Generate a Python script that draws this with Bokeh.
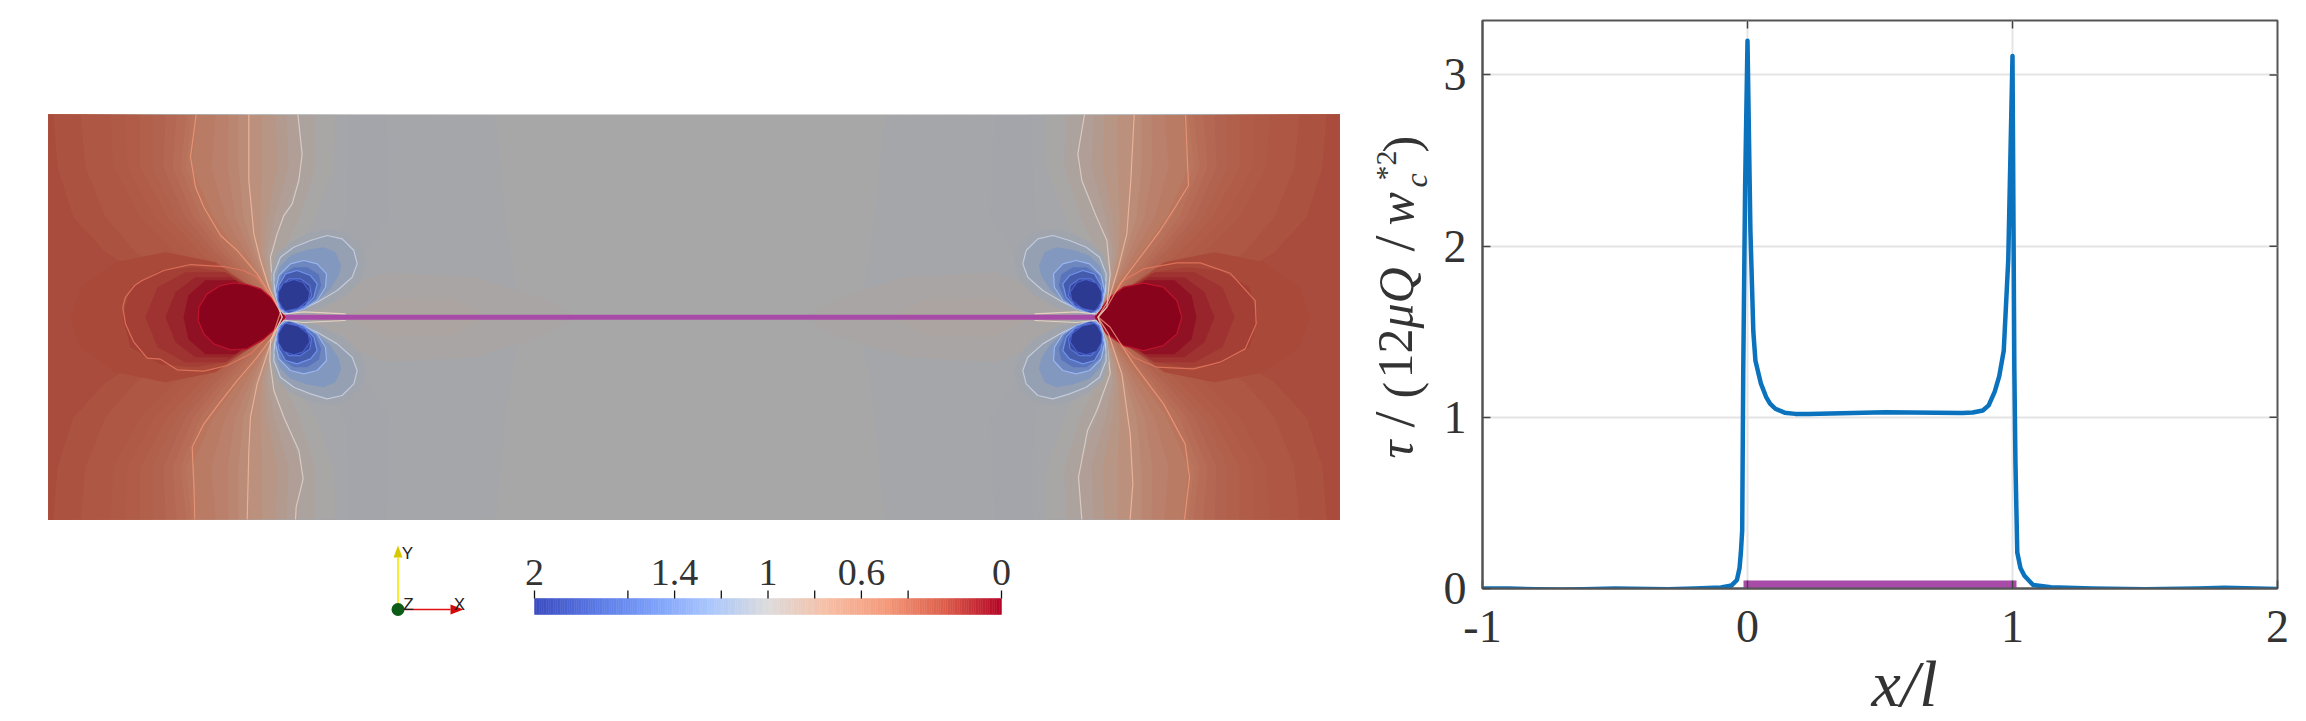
import numpy as np
from bokeh.embed import file_html
from bokeh.resources import INLINE
from bokeh.layouts import row
from bokeh.plotting import figure
from bokeh.core.properties import value
from bokeh.models import Range1d, FixedTicker, Title

# ---------------- data: curve ----------------
curve_x = [-1, -0.9, -0.7, -0.5, -0.3, -0.2, -0.1, -0.06, -0.04, -0.03, -0.025, -0.02, -0.016, -0.009, 0.0,
           0.011, 0.022, 0.03, 0.05, 0.07, 0.085, 0.105, 0.14, 0.18, 0.23, 0.52, 0.81, 0.85, 0.888, 0.91, 0.933, 0.95, 0.967, 0.984, 1.0,
           1.007, 1.011, 1.018, 1.03, 1.045, 1.078, 1.145, 1.3, 1.5, 1.7, 1.8, 2.0]
curve_y = [0.0, 0.0, -0.008, 0.0, -0.004, 0.0, 0.006, 0.018, 0.05, 0.12, 0.21, 0.34, 1.28, 2.35, 3.2,
           2.09, 1.5, 1.33, 1.2, 1.12, 1.08, 1.05, 1.027, 1.02, 1.02, 1.03, 1.025, 1.028, 1.04, 1.07, 1.15, 1.24, 1.39, 1.92, 3.11,
           1.28, 0.745, 0.21, 0.12, 0.075, 0.02, 0.008, 0.0, -0.004, 0.0, 0.004, -0.003]
fracture_x = [0, 1]
x_ticks = [-1, 0, 1, 2]
y_ticks = [0, 1, 2, 3]

# ---------------- data: field bands ----------------
# each band: field value, and the contour's offset from the tip (pixels) at these heights above the crack
band_heights = [202, 150, 100, 65, 35, 12, 0]
band_levels = [1.008, 1.016, 1.025, 1.03, 1.02, 0.99, 0.95, 0.90, 0.85, 0.80, 0.75, 0.70, 0.65, 0.60, 0.55, 0.50,
               0.475, 0.45, 0.425, 0.40, 0.38, 0.36, 0.345, 0.33, 0.30, 0.27]
band_1008 = [290, 300, 305, 310, 315, 320, 325]
band_1016 = [210, 215, 220, 225, 230, 235, 240]
band_1025 = [150, 155, 160, 165, 170, 175, 180]
band_1030 = [100, 102, 104, 80, 60, 40, 30]
band_1020 = [62, 62, 60, 40, 20, 8, 4]
band_0990 = [50, 48, 30, 10, 0, -2, 0]
band_0950 = [29, 30, 14, -3, -8, -5, 0]
band_0900 = [12, 16, -3, -14, -13, -7, 0]
band_0850 = [1, 3, -11, -18, -15, -7, 0]
band_0800 = [-10, -8, -18, -21, -16, -8, 0]
band_0750 = [-23, -23, -25, -24, -17, -8, 0]
band_0700 = [-37, -37, -33, -27, -19, -8, 0]
band_0650 = [-47, -47, -42, -31, -20, -8, 0]
band_0600 = [-57, -58, -50, -35, -21, -8, 0]
band_0550 = [-70, -74, -60, -40, -23, -9, 0]
band_0500 = [-89, -94, -72, -47, -25, -9, 0]
band_0475 = [-94, -100, -78, -52, -28, -10, -1]
band_0450 = [-99, -105, -85, -58, -32, -12, -2]
band_0425 = [-109, -113, -92, -64, -36, -13, -2]
band_0400 = [-120, -122, -100, -70, -40, -15, -3]
band_0380 = [-132, -133, -109, -77, -46, -17, -4]
band_0360 = [-145, -145, -118, -85, -52, -20, -5]
band_0345 = [-160, -158, -131, -97, -60, -25, -6]
band_0330 = [-175, -172, -145, -110, -70, -30, -8]
band_0300 = [-205, -200, -180, -150, -100, -45, -12]
band_0270 = [-232, -228, -212, -180, -130, -60, -15]
band_all = [band_1008, band_1016, band_1025, band_1030, band_1020, band_0990, band_0950, band_0900, band_0850, band_0800,
            band_0750, band_0700, band_0650, band_0600, band_0550, band_0500, band_0475, band_0450, band_0425, band_0400,
            band_0380, band_0360, band_0345, band_0330, band_0300, band_0270]

# faint warm zones beside the crack: offsets (dx, dy) from the tip, upper half
warm_levels = [0.98, 0.96]
warm_1 = [(20,0),(40,22),(100,45),(190,40),(260,18),(290,0)]
warm_2 = [(60,0),(100,20),(170,18),(200,0)]

# dark halo round the red ball: upper half, offsets (dx, dy) from the tip in pixels, mirrored below
halo_levels = [0.25, 0.215, 0.17, 0.12, 0.05]
halo_1 = [(-215,0),(-205,30),(-170,55),(-120,65),(-70,55),(-20,20),(0,0)]
halo_2 = [(-163,0),(-155,30),(-125,47),(-90,50),(-60,45),(-20,22),(0,0)]
halo_3 = [(-140,0),(-128,30),(-100,45),(-60,45),(-20,20),(0,0)]
halo_4 = [(-120,0),(-110,25),(-90,40),(-55,40),(-18,15),(0,0)]
halo_5 = [(-102,0),(-97,22),(-80,37),(-50,37),(-15,12),(0,0)]

# contours digitised around the left tip and right tip, (x, y) in picture samples (3 per pixel)
left_c0 = [(740,620),(680,530),(640,510),(580,498),(480,492),(400,510),(335,540),(312,555),(285,590),(277,620),(285,670),(310,725),(350,773),(390,776),(440,808),(520,812),(590,795),(660,760),(740,680)]
left_ball = [(765,650),(720,590),(690,565),(650,552),(610,547),(570,555),(530,580),(505,620),(503,660),(520,700),(550,730),(600,748),(650,745),(700,715),(740,680)]
left_c1 = [(497,42),(480,170),(495,260),(520,320),(570,405),(620,450),(680,520),(725,590),(750,635),(725,710),(680,770),(620,840),(565,910),(520,970),(485,1040),(490,1150),(493,1257)]
left_c2 = [(655,42),(655,240),(670,400),(690,480),(715,560),(745,625),(755,650),(720,730),(680,850),(660,950),(655,1050),(650,1257)]
left_c3 = [(802,42),(815,160),(805,240),(785,310),(760,345),(740,400),(720,470),(725,540),(745,620),(755,650),(720,720),(718,780),(730,870),(760,950),(805,1050),(818,1135),(797,1220),(795,1257)]
right_c0 = [(325,610),(370,540),(430,505),(530,487),(600,487),(690,518),(765,600),(768,670),(735,745),(660,785),(580,805),(470,800),(400,770),(330,695)]
right_ball = [(283,650),(330,590),(370,560),(430,548),(490,560),(530,600),(545,650),(530,700),(490,735),(430,750),(370,735),(320,700)]
right_c1 = [(556,42),(565,255),(525,320),(480,390),(420,470),(360,550),(320,620),(295,650),(330,680),(400,790),(490,910),(555,1030),(568,1130),(553,1257)]
right_c2 = [(402,42),(392,240),(380,400),(355,500),(325,600),(293,650),(325,700),(365,820),(390,1000),(398,1150),(390,1257)]
right_c3 = [(253,42),(233,160),(245,240),(285,340),(320,420),(330,520),(320,620),(293,650),(320,720),(330,820),(290,930),(262,990),(235,1130),(245,1257)]

lobe_0 = [(760,642),(810,640),(880,620),(945,585),(990,540),(1005,490),(990,435),(945,395),(890,385),(830,400),(780,425),(740,460),(722,520),(726,575),(745,625)]
lobe_1 = [(760,640),(800,632),(860,605),(920,570),(965,530),(980,490),(970,450),(935,415),(890,405),(840,420),(790,440),(750,470),(730,520),(732,570),(745,620)]
lobe_a = [(762,638),(810,628),(860,602),(900,565),(925,525),(932,495),(915,455),(880,440),(830,448),(780,465),(748,498),(732,545),(738,590),(745,620)]
lobe_2 = [(765,635),(820,625),(860,600),(885,560),(888,520),(860,490),(820,480),(780,490),(745,525),(735,570),(745,620)]
lobe_b = [(770,638),(820,624),(855,595),(872,555),(865,522),(830,500),(790,500),(755,522),(738,570),(748,622)]
lobe_3 = [(775,640),(820,622),(850,590),(860,550),(840,525),(800,510),(765,520),(745,555),(740,590),(750,625)]
lobe_4 = [(785,630),(825,615),(843,585),(838,555),(810,535),(775,535),(750,560),(745,590),(755,620)]
lobe_5 = [(765,632),(802,624),(833,600),(838,575),(818,546),(790,537),(758,548),(743,575),(743,600),(755,622)]
lobe_shapes = [lobe_0, lobe_1, lobe_a, lobe_2, lobe_b, lobe_3, lobe_4, lobe_5]
lobe_fill = [1.05, 1.12, 1.24, 1.38, 1.54, 1.74, 1.92, 2.0]
lobe_line = [None, 1.08, None, 1.3, None, 1.5, 1.68, 1.85]
lens = [(765,640),(820,634),(945,640)]

# colour bar
cbar_ticks = [2, 1.6, 1.4, 1.2, 1, 0.8, 0.6, 0.4, 0]
cbar_labels = ["2", "1.4", "1", "0.6", "0"]
cbar_label_vals = [2, 1.4, 1, 0.6, 0]

# ---------------- scales ----------------
anchors = np.array([[0x3b,0x4c,0xc0],[0x59,0x77,0xe3],[0x7b,0x9f,0xf9],[0xaa,0xc7,0xfd],[0xdd,0xdc,0xdc],
                    [0xf6,0xbf,0xa6],[0xf4,0x9a,0x7b],[0xdd,0x60,0x4c],[0xb4,0x04,0x26]], float)
def cw(v):
    t = (2 - np.asarray(v, float)) / 2 * 8
    return np.array([np.interp(t, range(9), anchors[:, c]) for c in range(3)]).T
def hexc(rgb):
    return "#%02x%02x%02x" % tuple(int(round(c)) for c in rgb)
mc = lambda v: hexc(cw(v) * 0.76)
bc = lambda v: hexc(cw(v))

PX = 809.0   # pixels per unit length in the field view
Z = 3 * PX
TIP_PX, MID_PX = 285.0, 316.7
TOP, BOT = 20, 713    # page rows covered by the left panel's frame
def L(pts): return [(a - 765) / Z for a, b in pts], [(650 - b) / Z for a, b in pts]
def R(pts): return [1 + (a - 283) / Z for a, b in pts], [(650 - b) / Z for a, b in pts]

# ---------------- left panel ----------------
W1 = 1440
p1 = figure(width=W1, height=BOT - TOP, frame_width=W1, frame_height=BOT - TOP, output_backend="svg", toolbar_location=None,
            x_range=Range1d((0 - TIP_PX) / PX, (W1 - TIP_PX) / PX),
            y_range=Range1d((MID_PX - BOT) / PX, (MID_PX - TOP) / PX),
            min_border=0, outline_line_color=None)
p1.axis.visible = False
p1.grid.visible = False
p1.extra_x_ranges["px"] = Range1d(0, W1)
p1.extra_y_ranges["px"] = Range1d(BOT, TOP)
p1.extra_x_ranges["cb"] = Range1d(2 + 534 * 2 / 467, 2 - (W1 - 534) * 2 / 467)

x0, x1 = (48 - TIP_PX) / PX, (1339 - TIP_PX) / PX
y1 = (MID_PX - 114) / PX
p1.quad(left=x0, right=x1, bottom=-y1, top=y1, fill_color=mc(1.0), line_color=None)

hs = np.array(band_heights) / PX
for lv, dxs in zip(band_levels, band_all):
    dx = np.array(dxs) / PX
    p1.patch([x0] + list(dx) + list(dx[-2::-1]) + [x0], [y1] + list(hs) + list(-hs[-2::-1]) + [-y1],
             fill_color=mc(lv), line_color=None)
    p1.patch([x1] + list(1 - dx) + list(1 - dx[-2::-1]) + [x1], [y1] + list(hs) + list(-hs[-2::-1]) + [-y1],
             fill_color=mc(lv), line_color=None)

for lv, h in zip(warm_levels + halo_levels, [warm_1, warm_2, halo_1, halo_2, halo_3, halo_4, halo_5]):
    dx = np.array([a for a, b in h]) / PX
    dy = np.array([b for a, b in h]) / PX
    xs, ys = list(dx) + list(dx[-2:0:-1]), list(dy) + list(-dy[-2:0:-1])
    p1.patch(xs, ys, fill_color=mc(lv), line_color=None)
    p1.patch([1 - a for a in xs], ys, fill_color=mc(lv), line_color=None)

def line(x, y, v, lw=1.2, alpha=0.8):
    p1.line(x, y, line_color=bc(v), line_width=lw, line_alpha=alpha)

for T, c0, ball, c1, c2, c3 in [(L, left_c0, left_ball, left_c1, left_c2, left_c3),
                                (R, right_c0, right_ball, right_c1, right_c2, right_c3)]:
    cx, cy = T(c0)
    line(cx + cx[:1], cy + cy[:1], 0.36)
    p1.patch(*T(ball), fill_color=mc(0.0), line_color=bc(0.04), line_width=1.3)
    line(*T(c1), 0.5)
    line(*T(c2), 0.72)
    line(*T(c3), 0.92)

for sy in (1, -1):
    for sx in (0, 1):
        for pts, vf, vl in zip(lobe_shapes, lobe_fill, lobe_line):
            xs, ys = L(pts)
            xs = [1 - a if sx else a for a in xs]
            ys = [sy * b for b in ys]
            p1.patch(xs, ys, fill_color=mc(vf), line_color=bc(vl) if vl else None, line_width=1.2, line_alpha=0.8)
        xs, ys = L(lens)
        p1.line([1 - a if sx else a for a in xs], [sy * b for b in ys], line_color="#f5dcc8", line_width=1.1, line_alpha=0.8)

p1.line(fracture_x, [0, 0], line_color="#a84ba8", line_width=5)

# colour bar, one thin cell per level
levels = np.linspace(0, 2, 201)
mids = (levels[1:] + levels[:-1]) / 2
p1.quad(left=levels[1:], right=levels[:-1], top=598, bottom=614, x_range_name="cb", y_range_name="px",
        fill_color=[bc(m) for m in mids], line_color=[bc(m) for m in mids], line_width=0.5)
p1.segment(cbar_ticks, [590] * 9, cbar_ticks, [598] * 9, x_range_name="cb", y_range_name="px",
           line_color="#111111", line_width=1.3)
p1.text(cbar_label_vals, [572] * 5, text=cbar_labels, x_range_name="cb", y_range_name="px",
        text_font=value("Liberation Serif"), text_font_size="38px", text_color="#333333",
        text_align="center", text_baseline="alphabetic")

# orientation triad
p1.segment([397.5], [609], [397.5], [557], x_range_name="px", y_range_name="px", line_color="#f5e800", line_width=1.6)
p1.segment([397.5], [609], [450], [609], x_range_name="px", y_range_name="px", line_color="#e01010", line_width=1.6)
p1.patch([393, 402, 397.5], [557, 557, 545], x_range_name="px", y_range_name="px", fill_color="#d8c800", line_color=None)
p1.patch([450, 450, 463], [604, 614, 609], x_range_name="px", y_range_name="px", fill_color="#d80808", line_color=None)
p1.scatter([397.5], [609], size=13, x_range_name="px", y_range_name="px", fill_color="#0c5c18", line_color=None)
p1.text([407, 408, 459], [553, 604, 604], text=["Y", "Z", "X"], x_range_name="px", y_range_name="px",
        text_font=value("Liberation Sans"), text_font_size="17px", text_color="#222222",
        text_align="center", text_baseline="alphabetic")

# y label of the right panel (it lies left of that panel's frame)
def lab(px, py, t, size, style="normal"):
    p1.text([px - 0.5 * size], [py], text=[t], x_range_name="px", y_range_name="px", angle=np.pi / 2,
            text_font=value("Liberation Serif"), text_font_size=f"{size}px", text_font_style=style,
            text_color="#333333", text_align="left", text_baseline="alphabetic")
bx = 1420
lab(bx, 458, "τ", 50, "italic")
lab(bx + 3, 427, "/", 58)
lab(bx + 5, 398, "(", 50)
lab(bx, 378, "12", 50)
lab(bx, 328, "μQ", 50, "italic")
lab(bx + 3, 251, "/", 58)
lab(bx, 225, "w", 50, "italic")
lab(bx + 11, 187, "c", 32, "italic")
lab(bx - 20, 180, "*2", 30)
lab(bx + 5, 152, ")", 50)

# ---------------- right panel ----------------
W2 = 856
p2 = figure(width=W2, height=BOT, output_backend="svg", toolbar_location=None,
            frame_width=795, frame_height=568,
            x_range=Range1d(-1, 2), y_range=Range1d(0, 3.318),
            min_border_left=41, min_border_right=20, min_border_top=TOP, min_border_bottom=125,
            outline_line_color="#555555", outline_line_width=2)
for ax in (p2.xaxis[0], p2.yaxis[0]):
    ax.major_tick_in = 8
    ax.major_tick_out = 0
    ax.minor_tick_line_color = None
    ax.axis_line_color = "#555555"
    ax.axis_line_width = 2
    ax.major_tick_line_color = "#444444"
    ax.major_tick_line_width = 1.5
    ax.major_label_text_font = "Liberation Serif"
    ax.major_label_text_font_size = "46px"
    ax.major_label_text_color = "#333333"
p2.xaxis[0].ticker = FixedTicker(ticks=x_ticks)
p2.yaxis[0].ticker = FixedTicker(ticks=y_ticks)
p2.xaxis[0].major_label_overrides = {-1: "-1"}
p2.xaxis[0].major_label_standoff = 22
p2.yaxis[0].major_label_standoff = 16
p2.add_layout(Title(text="x/l", text_font="Liberation Serif", text_font_style="italic", text_font_size="66px",
                    text_color="#333333", align="left", offset=389, standoff=0), "below")
for g, tk in ((p2.xgrid[0], x_ticks), (p2.ygrid[0], y_ticks)):
    g.ticker = FixedTicker(ticks=tk)
    g.grid_line_color = "#e4e4e4"
    g.grid_line_width = 2
# inward ticks on the top and right edges
tx = np.array(x_ticks[1:-1], float)
ty = np.array(y_ticks[1:], float)
p2.segment(tx, 3.318, tx, 3.318 - 8 * 3.318 / 568, line_color="#444444", line_width=1.5)
p2.segment(2.0, ty, 2 - 8 * 3 / 795, ty, line_color="#444444", line_width=1.5)

p2.line(fracture_x, [0.024, 0.024], line_color="#a84ba8", line_width=8, line_cap="square")
p2.line(curve_x, curve_y, line_color="#0b72bd", line_width=4.5, line_join="round")

open("out.html", "w").write(file_html(row(p1, p2), INLINE))
